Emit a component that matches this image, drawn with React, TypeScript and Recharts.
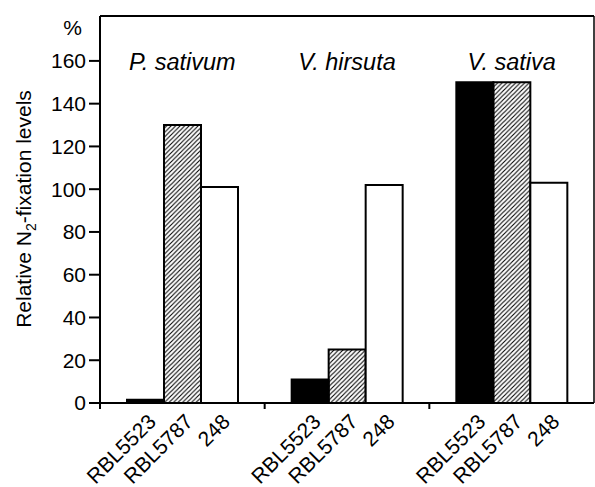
import { BarChart, Bar, XAxis, YAxis, ReferenceLine, Label } from "recharts"

const species = ["P. sativum", "V. hirsuta", "V. sativa"]
const strains = ["RBL5523", "RBL5787", "248"]
const rbl5523 = [1.5, 11, 150]
const rbl5787 = [130, 25, 150]
const strain248 = [101, 102, 103]
const yTicks = [0, 20, 40, 60, 80, 100, 120, 140, 160]

const chartData = species.map((name, i) => ({
  name,
  RBL5523: rbl5523[i],
  RBL5787: rbl5787[i],
  "248": strain248[i],
}))

const FONT = "'Liberation Sans', Arial, Helvetica, sans-serif"
const BAR_SIZE = 37
const TITLE_Y = 70
const BAND = (595 - 100 - 1) / species.length

const GroupTick = (props: any) => {
  const { x, y, payload } = props
  return (
    <g>
      <line x1={x - BAND / 2} y1={y - 8} x2={x - BAND / 2} y2={y - 2} stroke="#000" strokeWidth={2} />
      <text x={x} y={TITLE_Y} textAnchor="middle" fontSize={23.5} fontStyle="italic" fill="#000" fontFamily={FONT}>
        {payload.value}
      </text>
      {strains.map((s, i) => {
        const tx = x + (i - 1) * BAR_SIZE + 12
        const ty = y + 12
        return (
          <text
            key={s}
            x={tx}
            y={ty}
            textAnchor="end"
            fontSize={21}
            fill="#000"
            fontFamily={FONT}
            transform={`rotate(-45 ${tx} ${ty})`}
          >
            {s}
          </text>
        )
      })}
    </g>
  )
}

const YTitle = () => (
  <g fontFamily={FONT} fill="#000">
    <text x={82} y={35} textAnchor="end" fontSize={21}>%</text>
    <text x={31} y={209} textAnchor="middle" fontSize={21} transform="rotate(-90 31 209)">
      Relative N
      <tspan fontSize={14} dy={5}>2</tspan>
      <tspan dy={-5}>-fixation levels</tspan>
    </text>
  </g>
)

const App = () => {
  return (
    <div style={{ position: "absolute", left: 0, top: 0 }}>
      <BarChart
        width={595}
        height={487}
        data={chartData}
        margin={{ top: 16, right: 0, left: 0, bottom: 0 }}
        barGap={0}
        barSize={BAR_SIZE}
      >
        <defs>
          <pattern id="hatch" patternUnits="userSpaceOnUse" width={4.5} height={4.5}>
            <path d="M-1,1 L1,-1 M0,4.5 L4.5,0 M3.5,5.5 L5.5,3.5" stroke="#000" strokeWidth={1.1} />
          </pattern>
        </defs>
        <XAxis
          dataKey="name"
          height={84}
          tick={<GroupTick />}
          tickLine={false}
          axisLine={{ stroke: "#000", strokeWidth: 2 }}
          interval={0}
        />
        <YAxis
          yAxisId="left"
          width={100}
          domain={[0, 181]}
          ticks={yTicks}
          tickSize={11}
          tickMargin={3}
          tick={{ fill: "#000", fontSize: 21, fontFamily: FONT }}
          tickLine={{ stroke: "#000", strokeWidth: 2 }}
          axisLine={{ stroke: "#000", strokeWidth: 2 }}
        >
          <Label content={<YTitle />} />
        </YAxis>
        <YAxis
          yAxisId="right"
          orientation="right"
          width={1}
          domain={[0, 181]}
          tick={false}
          tickLine={false}
          axisLine={{ stroke: "#000", strokeWidth: 1.5 }}
        />
        <ReferenceLine yAxisId="left" y={181} stroke="#000" strokeWidth={2} />
        <Bar yAxisId="left" dataKey="RBL5523" fill="#000" stroke="#000" strokeWidth={2} isAnimationActive={false} />
        <Bar yAxisId="left" dataKey="RBL5787" fill="url(#hatch)" stroke="#000" strokeWidth={2} isAnimationActive={false} />
        <Bar yAxisId="left" dataKey="248" fill="#fff" stroke="#000" strokeWidth={2} isAnimationActive={false} />
      </BarChart>
    </div>
  )
}

export default App
